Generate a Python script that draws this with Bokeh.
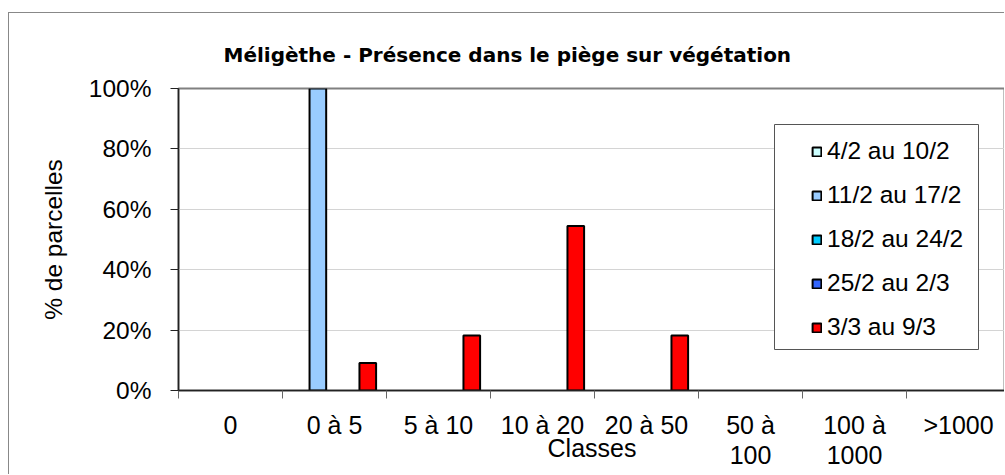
from bokeh.plotting import figure
from bokeh.models import (ColumnDataSource, Range1d, FixedTicker, PrintfTickFormatter,
                          Legend, LegendItem, BoxAnnotation, CDSView, BooleanFilter)
from bokeh.transform import dodge
from bokeh.embed import file_html
from bokeh.resources import INLINE

# ---- data ----
categories = ["0", "0 à 5", "5 à 10", "10 à 20", "20 à 50", "50 à\n100", "100 à\n1000", ">1000"]
series_names = ["4/2 au 10/2", "11/2 au 17/2", "18/2 au 24/2", "25/2 au 2/3", "3/3 au 9/3"]
s_0402_1002 = [0, 0, 0, 0, 0, 0, 0, 0]
s_1102_1702 = [0, 100, 0, 0, 0, 0, 0, 0]
s_1802_2402 = [0, 0, 0, 0, 0, 0, 0, 0]
s_2502_0203 = [0, 0, 0, 0, 0, 0, 0, 0]
s_0303_0903 = [0, 9.1, 18.2, 54.5, 18.2, 0, 0, 0]
y_ticks = [0, 20, 40, 60, 80, 100]
series_values = [s_0402_1002, s_1102_1702, s_1802_2402, s_2502_0203, s_0303_0903]
colors = ["#CCFFFF", "#99CCFF", "#00CCFF", "#3366FF", "#FF0000"]

FONT = "Liberation Sans"
n = len(categories)
centers = [i + 0.5 for i in range(n)]
bounds = [float(i) for i in range(n + 1)]

p = figure(width=996, height=462, output_backend="svg", toolbar_location=None,
           title="Méligèthe - Présence dans le piège sur végétation",
           x_range=Range1d(0, 827 / 104), y_range=Range1d(0, 100),
           min_border_left=169, min_border_right=0, min_border_top=75, min_border_bottom=85)
p.styles = {"margin-top": "12px", "margin-left": "8px",
            "border-left": "1px solid #888888", "border-top": "1px solid #888888"}
p.background_fill_color = "white"
p.outline_line_color = "#808080"
p.outline_line_width = 2

p.title.align = "left"
p.title.offset = 45
p.title.standoff = 43
p.title.text_font = "DejaVu Sans"
p.title.text_font_style = "bold"
p.title.text_font_size = "20px"
p.title.text_color = "black"

bar_w = 0.16
items = []
for k, (name, vals, col) in enumerate(zip(series_names, series_values, colors)):
    src = ColumnDataSource(dict(x=centers, top=vals))
    xpos = dodge("x", (k - 2) * bar_w, range=p.x_range)
    # bars actually drawn (zero-height bars are not drawn)
    view = CDSView(filter=BooleanFilter([v != 0 for v in vals]))
    p.vbar(x=xpos, top="top", bottom=0, width=bar_w, source=src, view=view,
           fill_color=col, line_color="black", line_width=2)
    # same series, used only for its legend swatch
    r_leg = p.vbar(x=xpos, top="top", bottom=0, width=bar_w, source=src,
                   fill_color=col, line_color="black", line_width=2, visible=False)
    items.append(LegendItem(label=name, renderers=[r_leg]))

# x axis
xa = p.xaxis[0]
xa.ticker = FixedTicker(ticks=centers, minor_ticks=bounds)
xa.major_label_overrides = {c: lab for c, lab in zip(centers, categories)}
xa.major_tick_out = 0
xa.major_tick_in = 0
xa.minor_tick_out = 8
xa.minor_tick_in = 0
xa.minor_tick_line_color = "#666666"
xa.minor_tick_line_width = 1
xa.axis_line_color = "#222222"
xa.axis_line_width = 1.5
xa.major_label_text_font = FONT
xa.major_label_text_font_size = "25px"
xa.major_label_text_color = "black"
xa.major_label_text_line_height = 1.1
xa.major_label_standoff = 12
xa.axis_label = "Classes"
xa.axis_label_text_font = FONT
xa.axis_label_text_font_size = "25px"
xa.axis_label_text_font_style = "normal"
xa.axis_label_text_color = "black"
xa.axis_label_standoff = -38

# y axis
ya = p.yaxis[0]
ya.ticker = FixedTicker(ticks=y_ticks, minor_ticks=[])
ya.formatter = PrintfTickFormatter(format="%d%%")
ya.major_tick_out = 8
ya.major_tick_in = 0
ya.major_tick_line_color = "#222222"
ya.axis_line_color = "#222222"
ya.axis_line_width = 1.5
ya.major_label_text_font = FONT
ya.major_label_text_font_size = "24.5px"
ya.major_label_text_color = "black"
ya.major_label_standoff = 19
ya.axis_label = "% de parcelles"
ya.axis_label_text_font = FONT
ya.axis_label_text_font_size = "24.5px"
ya.axis_label_text_font_style = "normal"
ya.axis_label_text_color = "black"
ya.axis_label_standoff = 19

p.xgrid.visible = False
p.ygrid.ticker = FixedTicker(ticks=y_ticks, minor_ticks=[])
p.ygrid.grid_line_color = "#d4d4d4"
p.ygrid.grid_line_width = 1

# legend box + legend
p.add_layout(BoxAnnotation(left=596, right=800, bottom=41, top=266,
                           left_units="screen", right_units="screen",
                           bottom_units="screen", top_units="screen",
                           fill_color="white", fill_alpha=1,
                           line_color="#555555", line_width=1, line_alpha=1))
legend = Legend(items=items, location=(633, 49), padding=0, margin=0, spacing=16,
                glyph_width=11, glyph_height=11, label_standoff=5, label_height=28,
                background_fill_alpha=0, border_line_alpha=0,
                label_text_font=FONT, label_text_font_size="24.5px", label_text_color="black")
p.add_layout(legend)

open("out.html", "w").write(file_html(p, INLINE))
